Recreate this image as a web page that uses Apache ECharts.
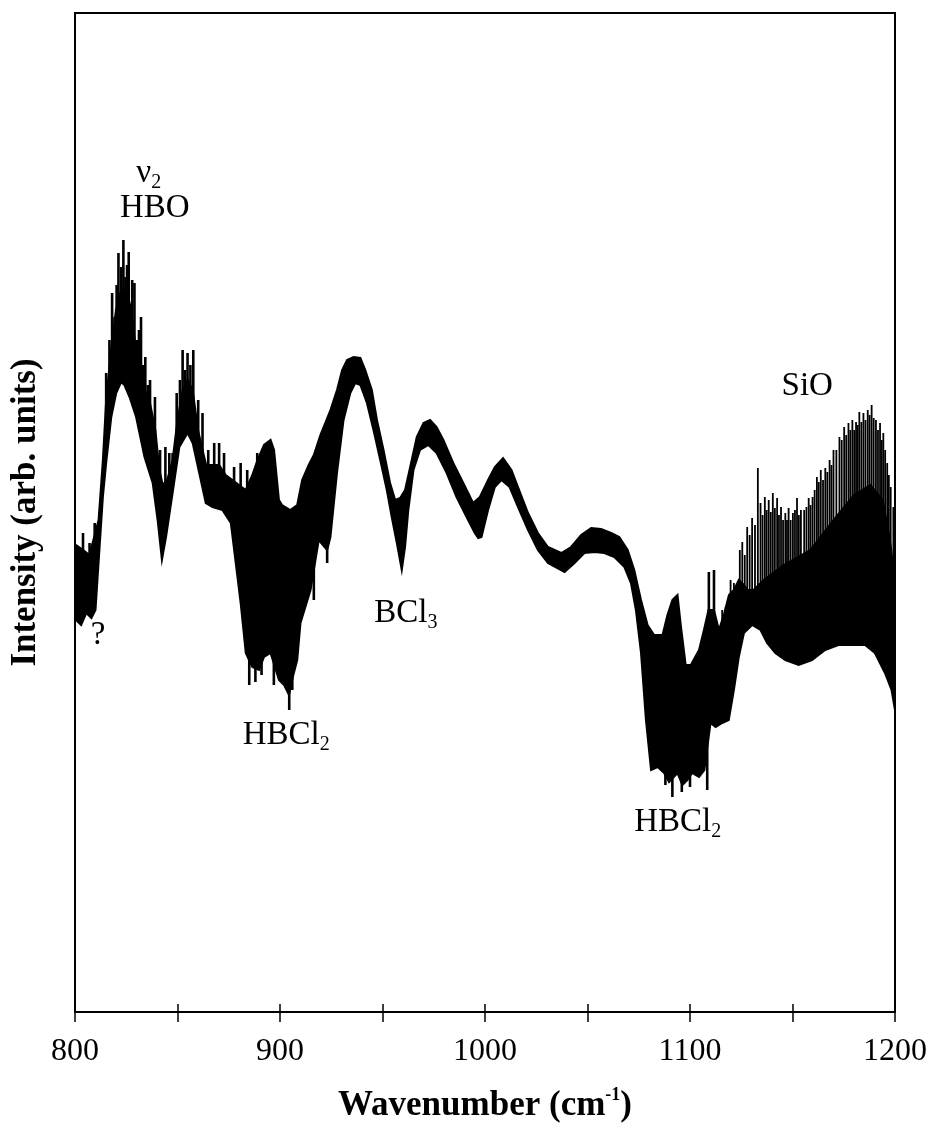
<!DOCTYPE html>
<html>
<head>
<meta charset="utf-8">
<script src="https://cdn.jsdelivr.net/npm/echarts@6/dist/echarts.min.js"></script>
<style>
  html, body { margin: 0; background: #fff; }
  #chart { width: 934px; height: 1131px; }
</style>
</head>
<body>
<div id="chart"></div>
<script>
// upper edge of the solid part of the trace [wavenumber, intensity]
const upperEdge = [
  [800.5, 51.5], [804, 51], [807, 50.5], [809.6, 52.5], [811.5, 54], [813.6, 60], [815.2, 66],
  [817.6, 71], [820, 75], [822.5, 77], [825, 77], [827.5, 75], [830, 70.5], [833, 67.5],
  [836.3, 66], [839.2, 63], [841.2, 59], [842.8, 57.5], [845, 58], [847.6, 60], [850, 64],
  [852.5, 67], [855, 68], [857.4, 67], [860, 63], [862.2, 61], [864, 59.5], [867, 59.5],
  [870.3, 59.5], [873.5, 58.5], [876.8, 58], [880, 57.5], [883.3, 57], [886.5, 58.5], [889, 60],
  [892.2, 61.5], [895.4, 62], [897.1, 61], [899.5, 56], [901, 55.5], [905, 55], [908.4, 55.5],
  [910.8, 58], [914, 59.5], [916.5, 60.5], [919.7, 62.5], [924.6, 65], [927.8, 67], [930.3, 69],
  [932.7, 70], [935.9, 70.3], [939.2, 70.2], [941.6, 69], [944.8, 67], [947.3, 64], [950.5, 61],
  [953.7, 57.7], [956.2, 56], [958.6, 56.2], [961, 57], [963.5, 59.3], [966.7, 62.3], [970, 63.7],
  [973.2, 64], [976.4, 63.3], [979.7, 62], [984.5, 59.7], [989.4, 57.7], [994.2, 55.7],
  [997.5, 56.3], [1001.5, 58], [1004.8, 59.3], [1008.8, 60.2], [1012.9, 59], [1016.1, 57.3],
  [1021, 54.7], [1025.8, 52.7], [1030.7, 51.3], [1037.2, 50.7], [1042, 51.3], [1046.9, 52.5],
  [1051.8, 53.2], [1056.6, 53.1], [1061.5, 52.7], [1065.5, 52.3], [1069.6, 51], [1072.8, 49],
  [1076.1, 46], [1079.3, 43.5], [1082.5, 42.5], [1086.6, 42.5], [1089, 44.5], [1091.4, 46],
  [1093.9, 46.5], [1095.5, 43.5], [1097.9, 39.5], [1100.4, 39.5], [1104.4, 41], [1106.8, 43],
  [1109, 45], [1111.7, 45], [1114.1, 43], [1116.5, 44.5], [1119, 46.5], [1121.4, 47],
  [1123.8, 48], [1126.3, 47.5], [1128, 47], [1131, 47], [1136, 48], [1145.7, 49.5],
  [1158.7, 51], [1170, 54], [1180, 56.5], [1188, 57.5], [1194, 56], [1197.5, 52], [1200, 48]
];

// lower edge of the trace
const lowerEdge = [
  [800.5, 44], [803, 43.5], [805.5, 44.7], [808, 44.2], [810, 45], [812, 51.3], [813.6, 56.3],
  [815.2, 59.7], [817.7, 64.3], [820.1, 66.7], [822.5, 67.8], [824.1, 67.5], [826.6, 66.3],
  [829.8, 64.3], [833.9, 60.3], [837.9, 57.7], [840.3, 54], [842.4, 50], [844.4, 52.3],
  [847.6, 56.7], [850.9, 61.3], [854.9, 62.7], [857.4, 61.7], [860.6, 58.7], [863.8, 55.7],
  [867.1, 55.3], [871.9, 55], [876, 53.7], [878.4, 49.7], [880.8, 45.7], [883.3, 40.7],
  [886.5, 39.3], [889.8, 39], [892.2, 40.3], [895.4, 40.7], [899.5, 38], [902, 37.5],
  [904.4, 36.5], [906.5, 38.5], [908.4, 40], [910, 43.7], [914.9, 47], [918.9, 52], [923, 51],
  [924.6, 52.3], [927.8, 58.7], [931, 64], [934.3, 66.7], [936.7, 67.7], [939.2, 67.5],
  [942.4, 65.7], [945.6, 63], [948.9, 60], [952.1, 57], [954.5, 54.3], [957, 51.7], [959.4, 49],
  [961, 51.3], [962.6, 55], [965.1, 59], [968.3, 61], [972.4, 61.5], [976.4, 60.7], [981.3, 58.7],
  [986.1, 56.3], [991, 54.3], [995, 52.7], [996.7, 52.2], [998.3, 52.3], [1001.5, 55],
  [1004.8, 57.3], [1008, 58], [1012, 57.3], [1016.1, 55.3], [1021, 53], [1025.8, 51],
  [1030.7, 49.7], [1038.8, 48.8], [1043.7, 49.7], [1048.5, 50.7], [1053.4, 50.8], [1058.2, 50.7],
  [1063.1, 50.3], [1068, 49.3], [1071.2, 47.7], [1073.6, 45], [1076.1, 40.7], [1078.5, 34],
  [1081, 29], [1084.2, 29.3], [1087.4, 28.7], [1089.8, 27.8], [1093.9, 28.7], [1096.3, 27.5],
  [1098.7, 28], [1101, 28.7], [1104.4, 28.3], [1107, 29], [1110, 33.7], [1112.5, 33.3],
  [1115.7, 33.7], [1118.9, 34], [1121.4, 37], [1123.8, 40.3], [1126.3, 42.7], [1130.3, 43.5],
  [1134.4, 43], [1137.6, 41.7], [1141.6, 40.7], [1146.5, 40], [1153, 39.5], [1159.5, 40],
  [1165.9, 41], [1172.4, 41.5], [1178.9, 41.5], [1185.4, 41.5], [1190.2, 40.7], [1195.1, 38.7],
  [1198.3, 37], [1200, 35]
];

// single rotational lines sticking out of the band [wavenumber, from, to]
const spikes = [
  [803.9, 48, 52.7], [807.1, 48, 51.7], [809.6, 49, 53.7], [815.2, 63, 68.7], [816.8, 66, 72],
  [818.1, 68, 76.7], [819.3, 70, 74.3], [820.3, 72, 77.5], [821.2, 72, 80.7], [822.5, 72, 79.3],
  [823.6, 72, 82], [824.6, 72, 78.3], [825.4, 72, 79.5], [826.2, 72, 80.8], [827.9, 72, 78],
  [829, 70, 77.7], [830.1, 66, 72], [831.2, 66, 73], [832.2, 66, 74.3], [833.3, 65, 69.5],
  [834.3, 64, 70.3], [835.5, 63, 67.5], [836.6, 63, 68], [839, 60, 66.3], [841.5, 56, 61],
  [844.1, 56, 61.3], [846, 56, 60.7], [847.6, 58, 60.7], [849.6, 60, 66.7], [851.2, 62, 68],
  [852.5, 63, 71], [853.7, 64, 69], [854.9, 64, 70.7], [856.3, 64, 69.5], [857.7, 63, 71],
  [860.1, 60, 66], [862.2, 58, 64.7], [865, 57, 61], [867.9, 57, 61.7], [870.3, 57, 61.7],
  [872.7, 57, 60.7], [877.6, 56, 59.3], [880.8, 55, 59.7], [884, 55, 59], [888.9, 57, 60.7],
  [885, 37.5, 42], [888, 37.8, 42], [891, 38.5, 42], [897, 37.5, 42], [904.5, 35, 40],
  [906, 37, 41], [916.5, 46, 50], [923, 49.7, 54],
  [1088, 27.5, 32], [1091.4, 26.3, 32], [1096, 26.8, 32], [1100, 27.3, 32], [1108.4, 27, 32],
  [1109.2, 42, 48.8], [1111.7, 42, 49],
  [1115.7, 42, 45], [1117.4, 42, 45.3], [1119.8, 44, 48], [1121.4, 44, 47.7], [1124.3, 45, 51],
  [1125.5, 45, 51.8], [1126.7, 45, 50.5], [1127.9, 45, 53.3], [1129.1, 45, 52.5], [1130.3, 45, 54.2],
  [1131.7, 45, 53.5], [1133.1, 45, 59.2], [1134.4, 45, 55.7], [1135.4, 45, 54.5], [1136.5, 45, 56.3],
  [1137.4, 45, 55], [1138.4, 45, 56], [1139.4, 45, 54.8], [1140.4, 45, 56.7], [1141.4, 45, 55.2],
  [1142.5, 45, 56.2], [1143.4, 45, 54.5], [1144.4, 45, 55.3], [1145.4, 45, 54], [1146.5, 45, 54.7],
  [1147.3, 45, 54], [1148.1, 45, 55.2], [1149.1, 45, 54], [1150.2, 45, 54.7], [1151.2, 45, 55],
  [1152.2, 45, 56.2], [1153.1, 45, 54.5], [1154.1, 45, 55], [1155.7, 45, 55], [1156.8, 45, 55.3],
  [1157.9, 45, 56.2], [1158.8, 45, 55.5], [1159.8, 45, 56.3], [1160.8, 45, 57], [1161.9, 45, 58.3],
  [1162.8, 45, 57.8], [1163.8, 45, 59], [1164.9, 45, 58], [1166, 45, 59.2], [1167, 45, 58.8],
  [1168.1, 45, 60], [1169, 45, 59.5], [1170, 45, 61], [1171.4, 46, 61], [1172.9, 46, 62.3],
  [1174, 46, 62], [1175.2, 46, 63.3], [1176.2, 46, 62.5], [1177.3, 46, 63.7], [1178.2, 46, 63],
  [1179.2, 46, 64], [1180.1, 46, 63], [1181, 46, 63.8], [1181.8, 46, 63.5], [1182.6, 46, 64.8],
  [1183.6, 46, 63.8], [1184.6, 46, 64.7], [1185.6, 46, 64], [1186.7, 46, 65], [1187.6, 46, 64.5],
  [1188.6, 46, 65.5], [1189.6, 46, 64.2], [1190.7, 46, 64], [1191.7, 46, 63], [1192.7, 46, 63.7],
  [1193.5, 46, 62], [1194.3, 46, 62.7], [1195.2, 46, 61], [1196.2, 46, 59.7], [1197, 45, 58.5],
  [1197.9, 45, 57.3], [1199.2, 45, 55.3]
];

// peak labels
const noteText = ['{m|ν}{s|2}', '{m|HBO}', '{m|?}', '{m|HBCl}{s|2}', '{m|BCl}{s|3}', '{m|HBCl}{s|2}', '{m|SiO}'];
const noteX = [836, 838.9, 811.2, 903, 961.4, 1094, 1157.2];
const noteY = [88.7, 85.2, 42.5, 32.5, 44.7, 23.8, 67.4];

const xMin = 800, xMax = 1200, xStep = 50;
const serif = '"Liberation Serif", "DejaVu Serif", serif';

const noteRich = {
  m: { fontFamily: serif, fontSize: 33, color: '#000', lineHeight: 40 },
  s: { fontFamily: serif, fontSize: 20, color: '#000', lineHeight: 20, verticalAlign: 'bottom' }
};

const chart = echarts.init(document.getElementById('chart'));

chart.setOption({
  backgroundColor: '#fff',
  animation: false,
  grid: { left: 72, right: 39, top: 13, bottom: 119, show: true, borderColor: '#000', borderWidth: 2 },
  xAxis: [{
    type: 'value', min: xMin, max: xMax, interval: xStep,
    axisLine: { show: true, lineStyle: { color: '#000', width: 2 } },
    axisTick: { show: true, inside: false, length: 10, lineStyle: { color: '#000', width: 1.5 } },
    splitLine: { show: false },
    axisLabel: {
      margin: 24, color: '#000', fontFamily: serif, fontSize: 32,
      formatter: v => (v % 100 === 0 ? String(v) : '')
    },
    name: '{b|Wavenumber (cm}{p|-1}{b|)}',
    nameLocation: 'middle', nameGap: 74,
    nameTextStyle: {
      rich: {
        b: { fontFamily: serif, fontWeight: 'bold', fontSize: 35, color: '#000', lineHeight: 40 },
        p: { fontFamily: serif, fontWeight: 'bold', fontSize: 18, color: '#000', lineHeight: 18, verticalAlign: 'top' }
      }
    }
  }, {
    type: 'value', min: xMin, max: xMax, interval: xStep, position: 'bottom',
    axisLine: { show: false },
    axisTick: { show: true, inside: true, length: 8, lineStyle: { color: '#000', width: 1.5 } },
    axisLabel: { show: false },
    splitLine: { show: false }
  }],
  yAxis: {
    type: 'value', min: 4.8, max: 104.7,
    axisLine: { show: true, lineStyle: { color: '#000', width: 2 } },
    axisTick: { show: false },
    axisLabel: { show: false },
    splitLine: { show: false },
    name: 'Intensity (arb. units)',
    nameLocation: 'middle', nameGap: 32,
    nameTextStyle: { fontFamily: serif, fontWeight: 'bold', fontSize: 35, color: '#000' }
  },
  series: [{
    // filled band between lower and upper edge
    type: 'custom',
    clip: true,
    data: [0],
    renderItem: (params, api) => {
      const top = upperEdge.map(p => api.coord(p));
      const bottom = lowerEdge.slice().reverse().map(p => api.coord(p));
      return {
        type: 'polygon',
        shape: { points: top.concat(bottom) },
        style: { fill: '#000', stroke: '#000', lineWidth: 2 }
      };
    }
  }, {
    type: 'custom',
    clip: true,
    data: spikes,
    encode: { x: 0, y: [1, 2] },
    renderItem: (params, api) => {
      const x = api.value(0);
      const a = api.coord([x, api.value(1)]);
      const b = api.coord([x, api.value(2)]);
      // the SiO lines are packed closely, keep them thinner
      return {
        type: 'line',
        shape: { x1: a[0], y1: a[1], x2: b[0], y2: b[1] },
        style: { stroke: '#000', lineWidth: x > 1115 ? 1.8 : 2.6 }
      };
    }
  }, {
    type: 'scatter',
    symbolSize: 0,
    silent: true,
    itemStyle: { opacity: 1 },
    data: noteX.map((x, i) => ({ value: [x, noteY[i]], label: { formatter: noteText[i] } })),
    label: {
      show: true, position: 'inside', color: '#000', opacity: 1, textBorderWidth: 0,
      rich: noteRich
    }
  }]
});
</script>
</body>
</html>
